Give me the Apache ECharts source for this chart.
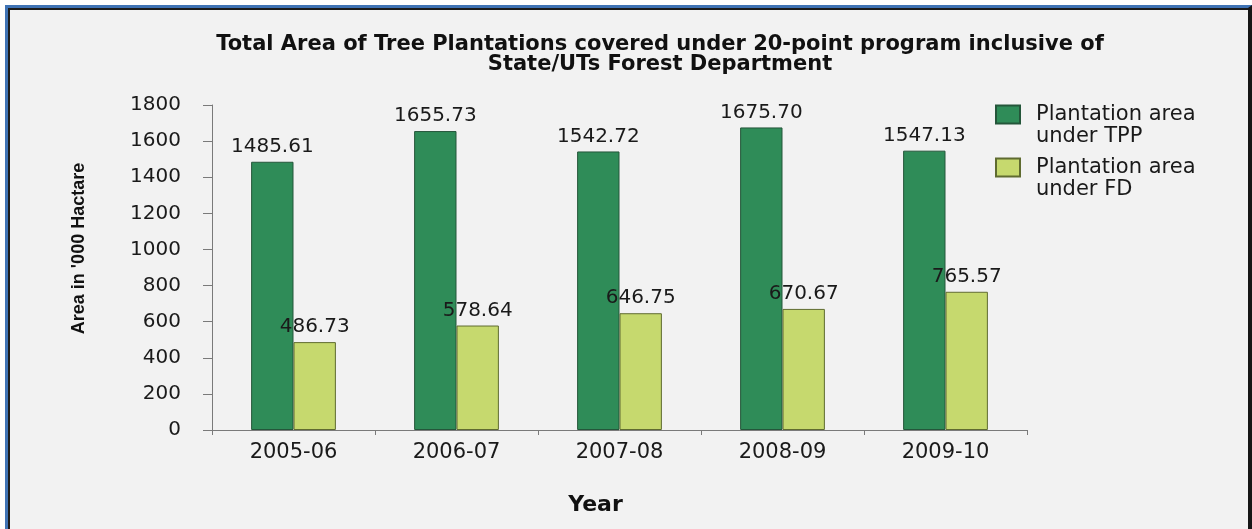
<!DOCTYPE html>
<html>
<head>
<meta charset="utf-8">
<title>Tree Plantations</title>
<script src="https://cdn.jsdelivr.net/npm/echarts@6/dist/echarts.min.js"></script>
<style>
    html, body { margin: 0; padding: 0; background: #ffffff; }
    #frame {
        position: absolute; left: 5px; top: 5px; right: 0; bottom: -10px;
        background: #f2f2f2;
        border-left: 3px solid #3f73b5;
        border-top: 3px solid #3f73b5;
        border-right: 4px solid #161616;
        box-shadow: inset 2px 2px 0 #1c1c1c;
    }
    #chart { position: absolute; left: 0; top: 0; width: 1252px; height: 529px; }
</style>
</head>
<body>
<div id="frame"></div>
<div id="chart"></div>
<script>
// 数据
const years = ['2005-06', '2006-07', '2007-08', '2008-09', '2009-10'];
const tppArea = [1485.61, 1655.73, 1542.72, 1675.70, 1547.13];
const fdArea = [486.73, 578.64, 646.75, 670.67, 765.57];
const seriesNames = ['Plantation area\nunder TPP', 'Plantation area\nunder FD'];

const FONT = '"DejaVu Sans", sans-serif';

function labelStyle() {
    return {
        show: true,
        position: 'top',
        distance: 5,
        fontFamily: FONT,
        fontSize: 20,
        color: '#1a1a1a',
        formatter: function (p) {
            return p.value.toFixed(2);
        }
    };
}

const chart = echarts.init(document.getElementById('chart'));

chart.setOption({
    animation: false,
    backgroundColor: 'transparent',
    title: {
        text: 'Total Area of Tree Plantations covered under 20-point program inclusive of\nState/UTs Forest Department',
        left: 655,
        top: 30,
        textAlign: 'center',
        textStyle: {
            fontFamily: FONT,
            fontWeight: 'bold',
            fontSize: 21,
            lineHeight: 20,
            color: '#111'
        }
    },
    legend: {
        orient: 'vertical',
        left: 990,
        top: 77,
        itemWidth: 24,
        itemHeight: 18,
        itemGap: -12,
        icon: 'rect',
        selectedMode: false,
        data: seriesNames,
        // 第一行文字与色块对齐：前面加一个空行
        formatter: function (name) {
            const lines = name.split('\n');
            return '{t| }\n' + lines.map(s => '{t|' + s + '}').join('\n');
        },
        textStyle: {
            rich: {
                t: {
                    fontFamily: FONT,
                    fontSize: 21,
                    lineHeight: 22,
                    color: '#1a1a1a',
                    padding: [0, 0, 0, 11]
                }
            }
        }
    },
    grid: {
        left: 212,
        right: 225,
        top: 105,
        bottom: 99
    },
    xAxis: {
        type: 'category',
        data: years,
        name: 'Year',
        nameLocation: 'middle',
        nameGap: 64,
        nameTextStyle: {
            fontFamily: FONT,
            fontWeight: 'bold',
            fontSize: 22,
            color: '#111',
            padding: [0, 48, 0, 0]
        },
        axisLine: { lineStyle: { color: '#7a7a7a', width: 1 } },
        axisTick: { show: true, length: 5, lineStyle: { color: '#7a7a7a' } },
        axisLabel: {
            fontFamily: FONT,
            fontSize: 21,
            color: '#1a1a1a',
            margin: 12
        }
    },
    yAxis: {
        type: 'value',
        min: 0,
        max: 1800,
        interval: 200,
        name: "Area in '000 Hactare",
        nameLocation: 'middle',
        nameRotate: 90,
        nameGap: 124,
        nameTextStyle: {
            fontFamily: '"Liberation Sans", Arial, sans-serif',
            fontWeight: 'bold',
            fontSize: 18,
            color: '#111',
            padding: [0, 0, 0, 38]
        },
        axisLine: { show: true, lineStyle: { color: '#7a7a7a', width: 1 } },
        axisTick: { show: true, length: 9, lineStyle: { color: '#7a7a7a' } },
        splitLine: { show: false },
        axisLabel: {
            fontFamily: FONT,
            fontSize: 20,
            color: '#1a1a1a',
            margin: 31,
            formatter: function (v) {
                return String(v);
            }
        }
    },
    series: [
        {
            name: seriesNames[0],
            type: 'bar',
            data: tppArea,
            barGap: '0%',
            barCategoryGap: '48%',
            itemStyle: { color: '#2f8c58', borderColor: '#24563a', borderWidth: 1 },
            label: labelStyle()
        },
        {
            name: seriesNames[1],
            type: 'bar',
            data: fdArea,
            barGap: '0%',
            barCategoryGap: '48%',
            itemStyle: { color: '#c6d96e', borderColor: '#5f6b30', borderWidth: 1 },
            label: labelStyle()
        }
    ]
});
</script>
</body>
</html>
